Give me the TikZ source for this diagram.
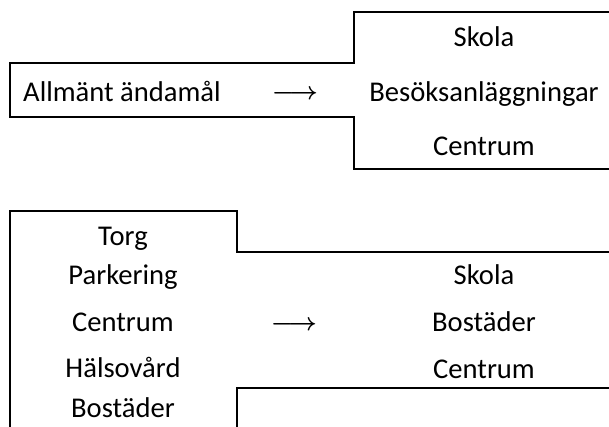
\documentclass[tikz,border=0pt]{standalone}
\usepackage{fontspec}
\setmainfont{Carlito}
\begin{document}
\begin{tikzpicture}[x=1pt,y=-1pt,
  frame/.style={line width=1.7pt, line join=miter},
  lbl/.style={inner sep=0pt, anchor=base, font=\fontsize{28.6}{34}\selectfont},
  arr/.style={inner sep=0pt, anchor=center, font=\fontsize{24}{30}\selectfont\boldmath}]
\useasboundingbox (0,0) rectangle (609,426);
% top figure
\draw[frame] (610,12) -- (354,12) -- (354,63) -- (10,63) -- (10,117) -- (354,117) -- (354,169) -- (610,169);
\node[lbl, anchor=base west] (a) at (23,101) {Allmänt ändamål};
\node[arr] (ar1) at (295,95) {$\longrightarrow$};
\node[lbl] (s1) at (484,46) {Skola};
\node[lbl] (b1) at (484,101) {Besöksanläggningar};
\node[lbl] (c1) at (484,155) {Centrum};
% bottom figure
\draw[frame] (10,427) -- (10,211) -- (237,211) -- (237,252) -- (610,252);
\draw[frame] (610,388) -- (237,388) -- (237,427);
\node[lbl] (t) at (123,245) {Torg};
\node[lbl] (p) at (123,284) {Parkering};
\node[lbl] (c2) at (123,331) {Centrum};
\node[lbl] (h) at (123,377) {Hälsovård};
\node[lbl] (bo) at (123,417) {Bostäder};
\node[arr] (ar2) at (294,326) {$\longrightarrow$};
\node[lbl] (s2) at (484,284) {Skola};
\node[lbl] (bo2) at (484,331) {Bostäder};
\node[lbl] (c3) at (484,378) {Centrum};
\end{tikzpicture}
\end{document}
